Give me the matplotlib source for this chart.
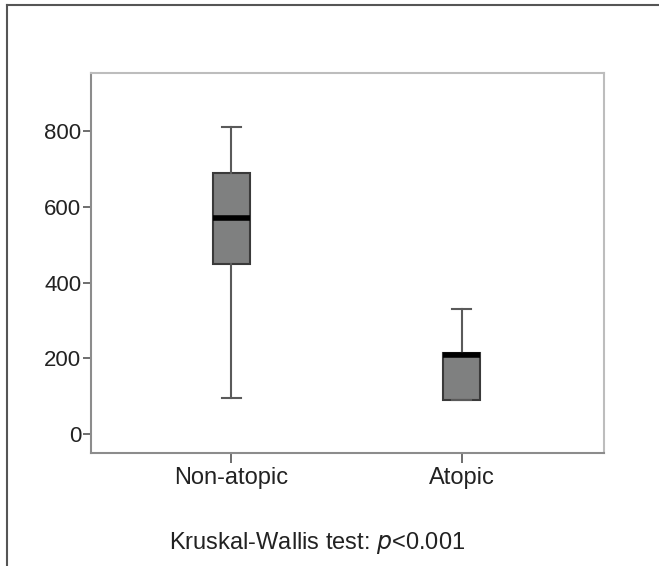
import matplotlib
matplotlib.use('Agg')
import matplotlib.pyplot as plt
from matplotlib.lines import Line2D

plt.rcParams['font.family'] = ['Liberation Sans', 'DejaVu Sans']

# data
groups = ['Non-atopic', 'Atopic']
whislo = [95, 90]
q1 = [450, 90]
med = [570, 210]
q3 = [690, 215]
whishi = [810, 330]
yticks = [0, 200, 400, 600, 800]

fig = plt.figure(figsize=(6.59, 5.66), dpi=100)
ax = fig.add_axes([0.138, 0.1996, 0.779, 0.6714])

stats = []
for i, g in enumerate(groups):
    stats.append({'label': g, 'whislo': whislo[i], 'q1': q1[i], 'med': med[i],
                  'q3': q3[i], 'whishi': whishi[i], 'fliers': []})

ax.bxp(stats, positions=[1, 2], widths=0.16, patch_artist=True, showfliers=False,
       boxprops=dict(facecolor='#7f8080', edgecolor='#3a3a3a', linewidth=1.5),
       medianprops=dict(color='black', linewidth=4, solid_capstyle='butt'),
       whiskerprops=dict(color='#5a5a5a', linewidth=1.5),
       capprops=dict(color='#5a5a5a', linewidth=1.5),
       capwidths=0.08)

ax.set_xlim(0.39, 2.62)
ax.set_ylim(-50, 953)
ax.set_yticks(yticks)
ax.set_xticks([1, 2])
ax.set_xticklabels(groups)
ax.tick_params(axis='y', labelsize=16, colors='#555555', labelcolor='#222222',
               length=6, width=1.2, pad=1)
ax.tick_params(axis='x', labelsize=17, colors='#555555', labelcolor='#222222',
               length=7, width=1.2, pad=3)
for s in ['left', 'bottom']:
    ax.spines[s].set_color('#8c8c8c')
    ax.spines[s].set_linewidth(1.5)
for s in ['top', 'right']:
    ax.spines[s].set_color('#bdbdbd')
    ax.spines[s].set_linewidth(1.5)

fig.text(0.481, 0.041, 'Kruskal-Wallis test: $\\it{p}$<0.001', ha='center', va='center',
         fontsize=17, color='#222222')

# outer frame (top and left only)
fig.add_artist(Line2D([7 / 659, 1], [1 - 5 / 566, 1 - 5 / 566], color='#555555', lw=1.5,
                      transform=fig.transFigure))
fig.add_artist(Line2D([7 / 659, 7 / 659], [0, 1 - 5 / 566], color='#555555', lw=1.5,
                      transform=fig.transFigure))

plt.savefig('out.png', dpi=100)
